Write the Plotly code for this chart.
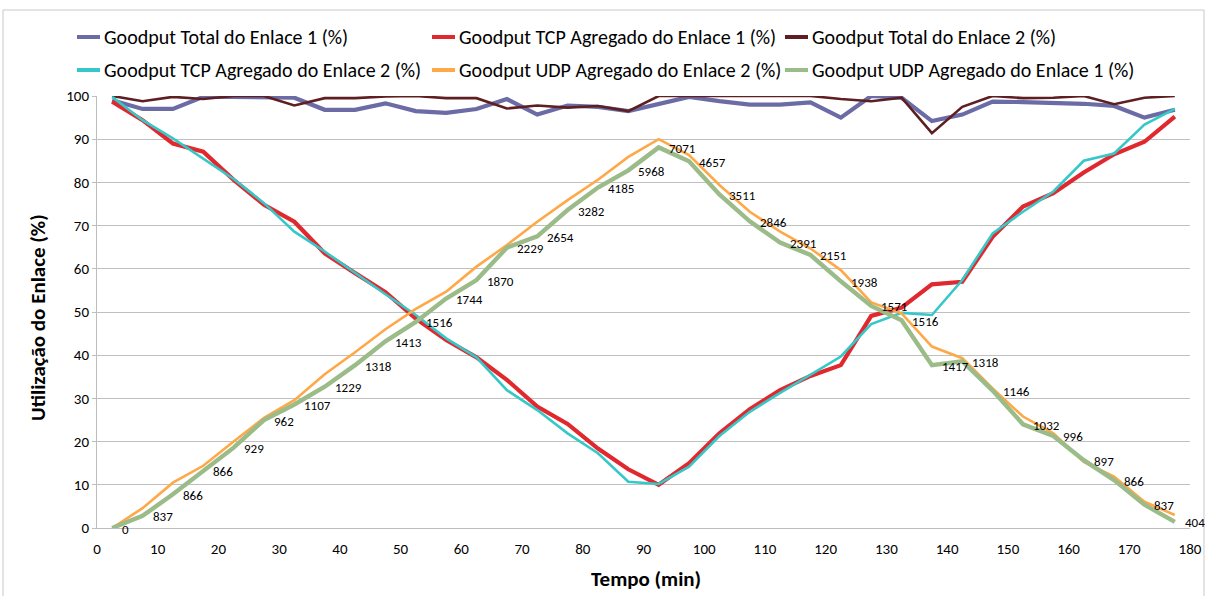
import plotly.graph_objects as go

# ---------------- data ----------------
tempo = [2.5, 7.5, 12.5, 17.5, 22.5, 27.5, 32.5, 37.5, 42.5, 47.5, 52.5, 57.5,
         62.5, 67.5, 72.5, 77.5, 82.5, 87.5, 92.5, 97.5, 102.5, 107.5, 112.5, 117.5,
         122.5, 127.5, 132.5, 137.5, 142.5, 147.5, 152.5, 157.5, 162.5, 167.5, 172.5, 177.5]

total_enlace1 = [99.0, 97.0, 97.0, 99.8, 99.8, 99.8, 99.6, 96.8, 96.8, 98.3, 96.5, 96.1,
                 97.0, 99.3, 95.7, 97.8, 97.5, 96.5, 98.2, 99.8, 98.8, 98.0, 98.0, 98.5,
                 95.0, 100.0, 99.6, 94.2, 95.7, 98.7, 98.6, 98.5, 98.2, 97.7, 95.0, 96.8]

tcp_enlace1 = [98.7, 94.4, 89.0, 87.1, 80.6, 74.8, 70.9, 63.6, 59.0, 54.6, 48.5, 43.5,
               39.5, 34.3, 28.1, 24.1, 18.4, 13.6, 10.0, 15.0, 21.9, 27.5, 31.9, 35.2,
               37.7, 49.1, 51.0, 56.4, 57.0, 67.4, 74.4, 77.5, 82.3, 86.5, 89.4, 95.2]

total_enlace2 = [100.0, 98.8, 99.8, 99.3, 100.0, 100.0, 97.8, 99.5, 99.5, 99.9, 100.0, 99.5,
                 99.5, 97.1, 97.8, 97.3, 97.7, 96.5, 100.0, 100.0, 100.0, 100.0, 100.0, 100.0,
                 99.3, 98.8, 99.6, 91.4, 97.5, 100.0, 99.5, 99.6, 100.0, 98.1, 99.6, 100.0]

tcp_enlace2 = [99.8, 94.4, 90.2, 85.4, 80.8, 75.2, 68.6, 64.0, 59.0, 54.1, 49.3, 43.9,
               39.5, 31.9, 27.3, 21.9, 17.3, 10.7, 10.2, 14.2, 21.3, 26.9, 31.3, 35.4,
               39.7, 47.2, 49.8, 49.3, 57.4, 68.2, 73.2, 77.9, 85.0, 86.7, 93.4, 97.0]

udp_enlace2 = [0.0, 4.6, 10.5, 14.4, 20.0, 25.5, 29.6, 35.6, 40.7, 46.0, 50.7, 54.7,
               60.5, 65.5, 70.9, 75.9, 80.6, 85.9, 90.0, 86.3, 79.4, 73.2, 68.6, 64.7,
               59.7, 52.2, 49.7, 42.0, 39.3, 32.3, 25.8, 21.9, 15.3, 11.9, 6.1, 3.0]

udp_enlace1 = [0.0, 2.8, 7.8, 13.2, 18.6, 25.0, 28.6, 32.7, 37.7, 43.2, 47.7, 53.1,
               57.4, 64.9, 67.5, 73.6, 78.8, 82.8, 88.1, 84.9, 77.2, 71.0, 66.1, 63.2,
               57.1, 51.4, 48.1, 37.7, 38.6, 31.8, 24.0, 21.3, 15.7, 11.1, 5.4, 1.4]

rotulos_udp1 = ["0", "837", "866", "866", "929", "962", "1107", "1229", "1318", "1413",
                "1516", "1744", "1870", "2229", "2654", "3282", "4185", "5968", "7071",
                "4657", "3511", "2846", "2391", "2151", "1938", "1571", "1516", "1417",
                "1318", "1146", "1032", "996", "897", "866", "837", "404"]

nomes = ["Goodput Total do Enlace 1 (%)",
         "Goodput TCP Agregado do Enlace 1 (%)",
         "Goodput Total do Enlace 2 (%)",
         "Goodput TCP Agregado do Enlace 2 (%)",
         "Goodput UDP Agregado do Enlace 2 (%)",
         "Goodput UDP Agregado do Enlace 1 (%)"]

titulo_x = "Tempo (min)"
titulo_y = "Utilização do Enlace (%)"

x_ticks = [0, 10, 20, 30, 40, 50, 60, 70, 80, 90, 100, 110, 120, 130, 140, 150, 160, 170, 180]
y_ticks = [0, 10, 20, 30, 40, 50, 60, 70, 80, 90, 100]

# ---------------- style ----------------
FONT = "Carlito, Lato, Liberation Sans, sans-serif"
cores = ["#6B6BA6", "#E0282F", "#5E1F22", "#36C8C8", "#FFA848", "#9BBB88"]
larguras = [4.2, 4.2, 2.6, 2.6, 2.6, 4.4]
series = [total_enlace1, tcp_enlace1, total_enlace2, tcp_enlace2, udp_enlace2, udp_enlace1]

W, H = 1206, 596
L, R, T, B = 97, 16, 96, 68
PW, PH = W - L - R, H - T - B


def px_x(p):
    return (p - L) / PW


def px_y(p):
    return (H - B - p) / PH


fig = go.Figure()
for i, (nome, vals) in enumerate(zip(nomes, series)):
    fig.add_trace(go.Scatter(x=tempo, y=vals, name=nome, mode="lines",
                             line=dict(color=cores[i], width=larguras[i]),
                             cliponaxis=False, hoverinfo="x+y+name"))

shapes = []
annotations = []
# outer frame
shapes.append(dict(type="rect", xref="paper", yref="paper",
                   x0=px_x(3), x1=px_x(1204), y0=px_y(605), y1=px_y(10),
                   line=dict(color="#C8C8C8", width=1), layer="below"))

# data labels of the UDP link-1 series (to the right of each point)
for xv, yv, t in zip(tempo, udp_enlace1, rotulos_udp1):
    annotations.append(dict(xref="x", yref="y", x=xv, y=yv, text=t,
                            xanchor="left", yanchor="middle", xshift=8, yshift=-1,
                            showarrow=False,
                            font=dict(family=FONT, size=13, color="#000000")))

# manual legend
leg_rows = [37, 70]
leg_cols = [77, 432, 785]
for i, nome in enumerate(nomes):
    r, c = divmod(i, 3)
    yy = px_y(leg_rows[r])
    x0 = leg_cols[c]
    shapes.append(dict(type="line", xref="paper", yref="paper",
                       x0=px_x(x0), x1=px_x(x0 + 23), y0=yy, y1=yy,
                       line=dict(color=cores[i], width=4)))
    annotations.append(dict(xref="paper", yref="paper", x=px_x(x0 + 25), y=yy,
                            xanchor="left", yanchor="middle", showarrow=False,
                            text=nome, font=dict(family=FONT, size=20, color="#000000")))

# axis titles
annotations.append(dict(xref="paper", yref="paper", x=px_x(646), y=px_y(579),
                        xanchor="center", yanchor="middle", showarrow=False,
                        text="<b>" + titulo_x + "</b>",
                        font=dict(family=FONT, size=21, color="#000000")))
annotations.append(dict(xref="paper", yref="paper", x=px_x(38), y=px_y(318),
                        xanchor="center", yanchor="middle", showarrow=False, textangle=-90,
                        text="<b>" + titulo_y + "</b>",
                        font=dict(family=FONT, size=21, color="#000000")))

fig.update_layout(
    width=W, height=H,
    margin=dict(l=L, r=R, t=T, b=B),
    paper_bgcolor="white", plot_bgcolor="white",
    showlegend=False,
    shapes=shapes, annotations=annotations,
    font=dict(family=FONT, color="#000000"),
    xaxis=dict(range=[0, 180], tickvals=x_ticks, ticktext=[str(v) for v in x_ticks],
               showgrid=False, zeroline=False, showline=True, linecolor="#BDBDBD",
               linewidth=1, ticks="", ticklabelstandoff=7, automargin=False,
               tickfont=dict(family=FONT, size=15, color="#000000")),
    yaxis=dict(range=[0, 100], tickvals=y_ticks, ticktext=[str(v) for v in y_ticks],
               showgrid=True, gridcolor="#C0C0C0", gridwidth=1, zeroline=False,
               showline=True, linecolor="#BDBDBD", linewidth=1, automargin=False,
               ticks="outside", ticklen=4, tickcolor="#BDBDBD",
               tickfont=dict(family=FONT, size=15, color="#000000")),
)

fig.write_html("out.html")
